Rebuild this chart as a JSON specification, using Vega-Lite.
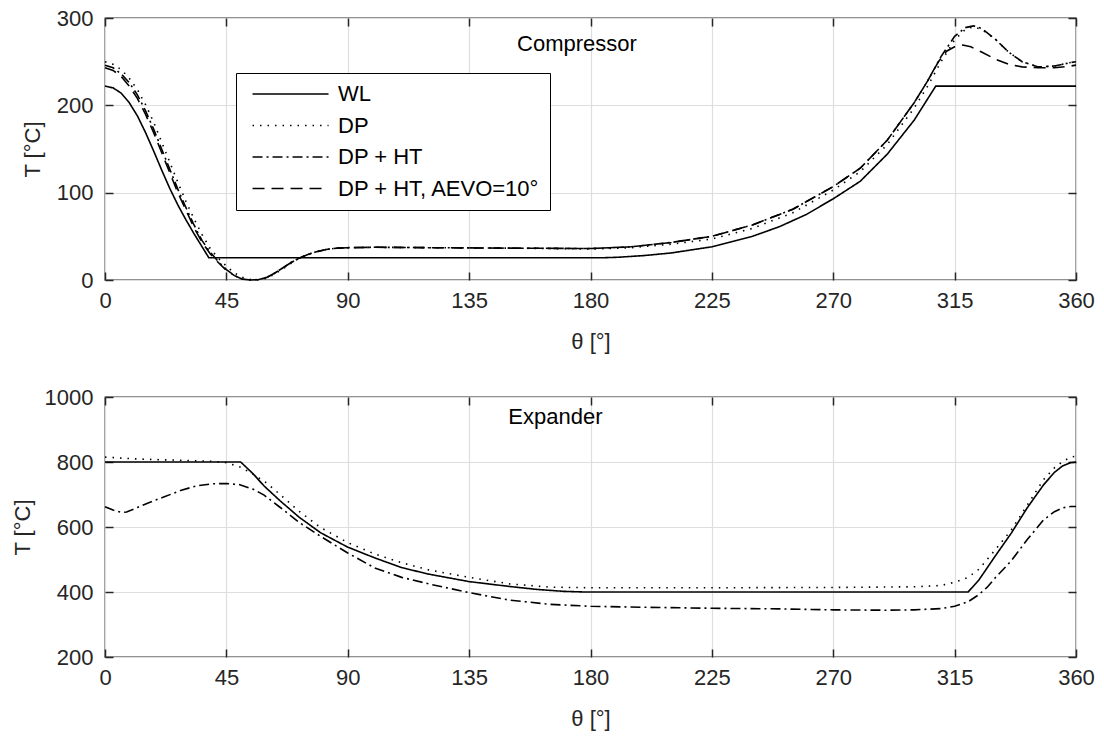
{
  "$schema": "https://vega.github.io/schema/vega-lite/v6.json",
  "background": "white",
  "padding": {"left": 10, "top": 6, "right": 10, "bottom": 10},
  "spacing": 32,
  "config": {
    "view": {"stroke": "#262626", "strokeWidth": 1.3},
    "font": "Liberation Sans",
    "axis": {"labelFont": "Liberation Sans", "labelFontSize": 22, "labelColor": "#262626", "titleFont": "Liberation Sans", "titleFontSize": 22, "titleFontWeight": "normal", "titleColor": "#262626", "gridColor": "#dedede", "gridWidth": 1.2, "domain": false, "tickColor": "#262626", "tickSize": -8, "tickWidth": 1.5, "labelFlush": false},
    "axisX": {"labelPadding": 18},
    "axisY": {"labelPadding": 20}
  },
  "datasets": {
    "comp": [
      {"series": "WL", "theta": 0, "T": 222}, {"series": "WL", "theta": 3, "T": 220}, {"series": "WL", "theta": 6, "T": 214}, {"series": "WL", "theta": 9, "T": 203}, {"series": "WL", "theta": 12, "T": 188}, {"series": "WL", "theta": 15, "T": 169}, {"series": "WL", "theta": 18, "T": 148}, {"series": "WL", "theta": 21, "T": 126}, {"series": "WL", "theta": 24, "T": 105}, {"series": "WL", "theta": 27, "T": 86}, {"series": "WL", "theta": 30, "T": 69}, {"series": "WL", "theta": 33, "T": 53}, {"series": "WL", "theta": 36, "T": 38}, {"series": "WL", "theta": 38.5, "T": 25.5}, {"series": "WL", "theta": 185, "T": 25.5}, {"series": "WL", "theta": 190, "T": 26}, {"series": "WL", "theta": 200, "T": 28}, {"series": "WL", "theta": 210, "T": 31}, {"series": "WL", "theta": 225, "T": 38}, {"series": "WL", "theta": 240, "T": 50}, {"series": "WL", "theta": 250, "T": 61}, {"series": "WL", "theta": 260, "T": 75}, {"series": "WL", "theta": 270, "T": 93}, {"series": "WL", "theta": 280, "T": 113}, {"series": "WL", "theta": 290, "T": 144}, {"series": "WL", "theta": 300, "T": 183}, {"series": "WL", "theta": 308, "T": 222}, {"series": "WL", "theta": 360, "T": 222},
      {"series": "DP", "theta": 0, "T": 250}, {"series": "DP", "theta": 3, "T": 247}, {"series": "DP", "theta": 6, "T": 241}, {"series": "DP", "theta": 9, "T": 231}, {"series": "DP", "theta": 12, "T": 218}, {"series": "DP", "theta": 15, "T": 201}, {"series": "DP", "theta": 18, "T": 181}, {"series": "DP", "theta": 21, "T": 158}, {"series": "DP", "theta": 24, "T": 135}, {"series": "DP", "theta": 27, "T": 112}, {"series": "DP", "theta": 30, "T": 90}, {"series": "DP", "theta": 33, "T": 70}, {"series": "DP", "theta": 36, "T": 52}, {"series": "DP", "theta": 39, "T": 36}, {"series": "DP", "theta": 42, "T": 25}, {"series": "DP", "theta": 45, "T": 16}, {"series": "DP", "theta": 48, "T": 8}, {"series": "DP", "theta": 51, "T": 3}, {"series": "DP", "theta": 54, "T": 0.5}, {"series": "DP", "theta": 57, "T": 0}, {"series": "DP", "theta": 60, "T": 2}, {"series": "DP", "theta": 63, "T": 7}, {"series": "DP", "theta": 66, "T": 13}, {"series": "DP", "theta": 69, "T": 19}, {"series": "DP", "theta": 72, "T": 25}, {"series": "DP", "theta": 75, "T": 29}, {"series": "DP", "theta": 78, "T": 32}, {"series": "DP", "theta": 82, "T": 35}, {"series": "DP", "theta": 86, "T": 36.5}, {"series": "DP", "theta": 90, "T": 37}, {"series": "DP", "theta": 100, "T": 37.5}, {"series": "DP", "theta": 120, "T": 37}, {"series": "DP", "theta": 150, "T": 36.5}, {"series": "DP", "theta": 180, "T": 35.5}, {"series": "DP", "theta": 195, "T": 37}, {"series": "DP", "theta": 210, "T": 41}, {"series": "DP", "theta": 225, "T": 47}, {"series": "DP", "theta": 240, "T": 59}, {"series": "DP", "theta": 255, "T": 77}, {"series": "DP", "theta": 270, "T": 103}, {"series": "DP", "theta": 280, "T": 124}, {"series": "DP", "theta": 290, "T": 155}, {"series": "DP", "theta": 300, "T": 197}, {"series": "DP", "theta": 305, "T": 222}, {"series": "DP", "theta": 310, "T": 250}, {"series": "DP", "theta": 315, "T": 275}, {"series": "DP", "theta": 319, "T": 287}, {"series": "DP", "theta": 322, "T": 290}, {"series": "DP", "theta": 325, "T": 287}, {"series": "DP", "theta": 330, "T": 276}, {"series": "DP", "theta": 335, "T": 261}, {"series": "DP", "theta": 340, "T": 250}, {"series": "DP", "theta": 346, "T": 244}, {"series": "DP", "theta": 352, "T": 245}, {"series": "DP", "theta": 358, "T": 249}, {"series": "DP", "theta": 360, "T": 250},
      {"series": "DP + HT", "theta": 0, "T": 246}, {"series": "DP + HT", "theta": 3, "T": 243}, {"series": "DP + HT", "theta": 6, "T": 236}, {"series": "DP + HT", "theta": 9, "T": 226}, {"series": "DP + HT", "theta": 12, "T": 212}, {"series": "DP + HT", "theta": 15, "T": 194}, {"series": "DP + HT", "theta": 18, "T": 173}, {"series": "DP + HT", "theta": 21, "T": 150}, {"series": "DP + HT", "theta": 24, "T": 127}, {"series": "DP + HT", "theta": 27, "T": 104}, {"series": "DP + HT", "theta": 30, "T": 83}, {"series": "DP + HT", "theta": 33, "T": 63}, {"series": "DP + HT", "theta": 36, "T": 45}, {"series": "DP + HT", "theta": 39, "T": 32}, {"series": "DP + HT", "theta": 42, "T": 21}, {"series": "DP + HT", "theta": 45, "T": 12}, {"series": "DP + HT", "theta": 48, "T": 5}, {"series": "DP + HT", "theta": 51, "T": 1}, {"series": "DP + HT", "theta": 54, "T": 0}, {"series": "DP + HT", "theta": 57, "T": 0.5}, {"series": "DP + HT", "theta": 60, "T": 3}, {"series": "DP + HT", "theta": 63, "T": 8}, {"series": "DP + HT", "theta": 66, "T": 14}, {"series": "DP + HT", "theta": 69, "T": 20}, {"series": "DP + HT", "theta": 72, "T": 25}, {"series": "DP + HT", "theta": 75, "T": 29}, {"series": "DP + HT", "theta": 78, "T": 32}, {"series": "DP + HT", "theta": 82, "T": 35}, {"series": "DP + HT", "theta": 86, "T": 36.5}, {"series": "DP + HT", "theta": 90, "T": 37}, {"series": "DP + HT", "theta": 100, "T": 37.5}, {"series": "DP + HT", "theta": 120, "T": 37}, {"series": "DP + HT", "theta": 150, "T": 36.5}, {"series": "DP + HT", "theta": 180, "T": 36}, {"series": "DP + HT", "theta": 195, "T": 38}, {"series": "DP + HT", "theta": 210, "T": 43}, {"series": "DP + HT", "theta": 225, "T": 50}, {"series": "DP + HT", "theta": 240, "T": 63}, {"series": "DP + HT", "theta": 255, "T": 81}, {"series": "DP + HT", "theta": 270, "T": 107}, {"series": "DP + HT", "theta": 280, "T": 128}, {"series": "DP + HT", "theta": 290, "T": 160}, {"series": "DP + HT", "theta": 300, "T": 203}, {"series": "DP + HT", "theta": 305, "T": 228}, {"series": "DP + HT", "theta": 310, "T": 256}, {"series": "DP + HT", "theta": 315, "T": 279}, {"series": "DP + HT", "theta": 319, "T": 289}, {"series": "DP + HT", "theta": 322, "T": 291}, {"series": "DP + HT", "theta": 325, "T": 288}, {"series": "DP + HT", "theta": 330, "T": 276}, {"series": "DP + HT", "theta": 335, "T": 261}, {"series": "DP + HT", "theta": 340, "T": 250}, {"series": "DP + HT", "theta": 346, "T": 244}, {"series": "DP + HT", "theta": 352, "T": 245}, {"series": "DP + HT", "theta": 358, "T": 249}, {"series": "DP + HT", "theta": 360, "T": 250},
      {"series": "DP + HT, AEVO=10°", "theta": 0, "T": 243}, {"series": "DP + HT, AEVO=10°", "theta": 3, "T": 240}, {"series": "DP + HT, AEVO=10°", "theta": 6, "T": 233}, {"series": "DP + HT, AEVO=10°", "theta": 9, "T": 222}, {"series": "DP + HT, AEVO=10°", "theta": 12, "T": 208}, {"series": "DP + HT, AEVO=10°", "theta": 15, "T": 190}, {"series": "DP + HT, AEVO=10°", "theta": 18, "T": 169}, {"series": "DP + HT, AEVO=10°", "theta": 21, "T": 146}, {"series": "DP + HT, AEVO=10°", "theta": 24, "T": 123}, {"series": "DP + HT, AEVO=10°", "theta": 27, "T": 100}, {"series": "DP + HT, AEVO=10°", "theta": 30, "T": 80}, {"series": "DP + HT, AEVO=10°", "theta": 33, "T": 60}, {"series": "DP + HT, AEVO=10°", "theta": 36, "T": 43}, {"series": "DP + HT, AEVO=10°", "theta": 39, "T": 30}, {"series": "DP + HT, AEVO=10°", "theta": 42, "T": 20}, {"series": "DP + HT, AEVO=10°", "theta": 45, "T": 11}, {"series": "DP + HT, AEVO=10°", "theta": 48, "T": 5}, {"series": "DP + HT, AEVO=10°", "theta": 51, "T": 1}, {"series": "DP + HT, AEVO=10°", "theta": 54, "T": 0}, {"series": "DP + HT, AEVO=10°", "theta": 57, "T": 0.5}, {"series": "DP + HT, AEVO=10°", "theta": 60, "T": 3}, {"series": "DP + HT, AEVO=10°", "theta": 63, "T": 8}, {"series": "DP + HT, AEVO=10°", "theta": 66, "T": 14}, {"series": "DP + HT, AEVO=10°", "theta": 69, "T": 20}, {"series": "DP + HT, AEVO=10°", "theta": 72, "T": 25}, {"series": "DP + HT, AEVO=10°", "theta": 75, "T": 29}, {"series": "DP + HT, AEVO=10°", "theta": 78, "T": 32}, {"series": "DP + HT, AEVO=10°", "theta": 82, "T": 35}, {"series": "DP + HT, AEVO=10°", "theta": 86, "T": 36.5}, {"series": "DP + HT, AEVO=10°", "theta": 90, "T": 37}, {"series": "DP + HT, AEVO=10°", "theta": 100, "T": 37.5}, {"series": "DP + HT, AEVO=10°", "theta": 120, "T": 37}, {"series": "DP + HT, AEVO=10°", "theta": 150, "T": 36.5}, {"series": "DP + HT, AEVO=10°", "theta": 180, "T": 36}, {"series": "DP + HT, AEVO=10°", "theta": 195, "T": 38}, {"series": "DP + HT, AEVO=10°", "theta": 210, "T": 43}, {"series": "DP + HT, AEVO=10°", "theta": 225, "T": 50}, {"series": "DP + HT, AEVO=10°", "theta": 240, "T": 63}, {"series": "DP + HT, AEVO=10°", "theta": 255, "T": 81}, {"series": "DP + HT, AEVO=10°", "theta": 270, "T": 107}, {"series": "DP + HT, AEVO=10°", "theta": 280, "T": 128}, {"series": "DP + HT, AEVO=10°", "theta": 290, "T": 160}, {"series": "DP + HT, AEVO=10°", "theta": 300, "T": 203}, {"series": "DP + HT, AEVO=10°", "theta": 305, "T": 228}, {"series": "DP + HT, AEVO=10°", "theta": 309, "T": 250}, {"series": "DP + HT, AEVO=10°", "theta": 312, "T": 262}, {"series": "DP + HT, AEVO=10°", "theta": 315, "T": 267}, {"series": "DP + HT, AEVO=10°", "theta": 318, "T": 269}, {"series": "DP + HT, AEVO=10°", "theta": 321, "T": 267}, {"series": "DP + HT, AEVO=10°", "theta": 325, "T": 261}, {"series": "DP + HT, AEVO=10°", "theta": 330, "T": 253}, {"series": "DP + HT, AEVO=10°", "theta": 335, "T": 247}, {"series": "DP + HT, AEVO=10°", "theta": 340, "T": 244}, {"series": "DP + HT, AEVO=10°", "theta": 346, "T": 243}, {"series": "DP + HT, AEVO=10°", "theta": 352, "T": 243}, {"series": "DP + HT, AEVO=10°", "theta": 358, "T": 245}, {"series": "DP + HT, AEVO=10°", "theta": 360, "T": 246}
    ],
    "exp": [
      {"series": "WL", "theta": 0, "T": 800}, {"series": "WL", "theta": 50.3, "T": 800}, {"series": "WL", "theta": 55, "T": 763}, {"series": "WL", "theta": 59, "T": 726}, {"series": "WL", "theta": 65, "T": 680}, {"series": "WL", "theta": 72, "T": 630}, {"series": "WL", "theta": 80, "T": 582}, {"series": "WL", "theta": 90, "T": 538}, {"series": "WL", "theta": 100, "T": 505}, {"series": "WL", "theta": 110, "T": 475}, {"series": "WL", "theta": 120, "T": 455}, {"series": "WL", "theta": 135, "T": 432}, {"series": "WL", "theta": 150, "T": 417}, {"series": "WL", "theta": 160, "T": 408}, {"series": "WL", "theta": 170, "T": 402}, {"series": "WL", "theta": 178, "T": 400}, {"series": "WL", "theta": 320, "T": 400}, {"series": "WL", "theta": 324, "T": 437}, {"series": "WL", "theta": 330, "T": 510}, {"series": "WL", "theta": 336, "T": 581}, {"series": "WL", "theta": 342, "T": 660}, {"series": "WL", "theta": 348, "T": 730}, {"series": "WL", "theta": 352, "T": 768}, {"series": "WL", "theta": 355, "T": 788}, {"series": "WL", "theta": 358, "T": 798}, {"series": "WL", "theta": 360, "T": 800},
      {"series": "DP", "theta": 0, "T": 815}, {"series": "DP", "theta": 10, "T": 810}, {"series": "DP", "theta": 20, "T": 807}, {"series": "DP", "theta": 30, "T": 805}, {"series": "DP", "theta": 40, "T": 802}, {"series": "DP", "theta": 45, "T": 798}, {"series": "DP", "theta": 50, "T": 785}, {"series": "DP", "theta": 55, "T": 762}, {"series": "DP", "theta": 60, "T": 735}, {"series": "DP", "theta": 66, "T": 692}, {"series": "DP", "theta": 72, "T": 648}, {"series": "DP", "theta": 80, "T": 598}, {"series": "DP", "theta": 90, "T": 552}, {"series": "DP", "theta": 100, "T": 517}, {"series": "DP", "theta": 110, "T": 490}, {"series": "DP", "theta": 120, "T": 468}, {"series": "DP", "theta": 135, "T": 445}, {"series": "DP", "theta": 150, "T": 425}, {"series": "DP", "theta": 165, "T": 415}, {"series": "DP", "theta": 180, "T": 413}, {"series": "DP", "theta": 225, "T": 413}, {"series": "DP", "theta": 270, "T": 414}, {"series": "DP", "theta": 300, "T": 416}, {"series": "DP", "theta": 310, "T": 420}, {"series": "DP", "theta": 315, "T": 430}, {"series": "DP", "theta": 320, "T": 445}, {"series": "DP", "theta": 324, "T": 470}, {"series": "DP", "theta": 330, "T": 529}, {"series": "DP", "theta": 336, "T": 591}, {"series": "DP", "theta": 342, "T": 668}, {"series": "DP", "theta": 348, "T": 746}, {"series": "DP", "theta": 352, "T": 782}, {"series": "DP", "theta": 355, "T": 801}, {"series": "DP", "theta": 358, "T": 815}, {"series": "DP", "theta": 360, "T": 818},
      {"series": "DP + HT", "theta": 0, "T": 662}, {"series": "DP + HT", "theta": 3, "T": 652}, {"series": "DP + HT", "theta": 6, "T": 645}, {"series": "DP + HT", "theta": 8, "T": 646}, {"series": "DP + HT", "theta": 12, "T": 660}, {"series": "DP + HT", "theta": 16, "T": 674}, {"series": "DP + HT", "theta": 22, "T": 693}, {"series": "DP + HT", "theta": 28, "T": 712}, {"series": "DP + HT", "theta": 34, "T": 727}, {"series": "DP + HT", "theta": 40, "T": 733}, {"series": "DP + HT", "theta": 45, "T": 734}, {"series": "DP + HT", "theta": 50, "T": 730}, {"series": "DP + HT", "theta": 55, "T": 716}, {"series": "DP + HT", "theta": 59, "T": 698}, {"series": "DP + HT", "theta": 65, "T": 660}, {"series": "DP + HT", "theta": 72, "T": 614}, {"series": "DP + HT", "theta": 80, "T": 571}, {"series": "DP + HT", "theta": 90, "T": 520}, {"series": "DP + HT", "theta": 100, "T": 474}, {"series": "DP + HT", "theta": 110, "T": 445}, {"series": "DP + HT", "theta": 120, "T": 425}, {"series": "DP + HT", "theta": 135, "T": 398}, {"series": "DP + HT", "theta": 150, "T": 375}, {"series": "DP + HT", "theta": 165, "T": 362}, {"series": "DP + HT", "theta": 180, "T": 356}, {"series": "DP + HT", "theta": 200, "T": 353}, {"series": "DP + HT", "theta": 225, "T": 350}, {"series": "DP + HT", "theta": 250, "T": 348}, {"series": "DP + HT", "theta": 270, "T": 345}, {"series": "DP + HT", "theta": 290, "T": 344}, {"series": "DP + HT", "theta": 300, "T": 345}, {"series": "DP + HT", "theta": 310, "T": 349}, {"series": "DP + HT", "theta": 315, "T": 356}, {"series": "DP + HT", "theta": 320, "T": 370}, {"series": "DP + HT", "theta": 324, "T": 392}, {"series": "DP + HT", "theta": 327, "T": 414}, {"series": "DP + HT", "theta": 330, "T": 443}, {"series": "DP + HT", "theta": 336, "T": 496}, {"series": "DP + HT", "theta": 342, "T": 562}, {"series": "DP + HT", "theta": 348, "T": 622}, {"series": "DP + HT", "theta": 352, "T": 647}, {"series": "DP + HT", "theta": 355, "T": 659}, {"series": "DP + HT", "theta": 358, "T": 663}, {"series": "DP + HT", "theta": 360, "T": 663}
    ]
  },
  "resolve": {"scale": {"strokeDash": "independent"}, "legend": {"strokeDash": "independent"}},
  "vconcat": [
    {
      "width": 971,
      "height": 262,
      "resolve": {"axis": {"x": "independent", "y": "independent"}},
      "layer": [
        {
          "data": {"name": "comp"},
          "mark": {"type": "line", "color": "black", "strokeWidth": 1.6},
          "encoding": {
            "x": {"field": "theta", "type": "quantitative", "scale": {"domain": [0, 360], "nice": false}, "axis": {"values": [0, 45, 90, 135, 180, 225, 270, 315, 360], "title": "θ [°]", "titlePadding": 20, "grid": true}},
            "y": {"field": "T", "type": "quantitative", "scale": {"domain": [0, 300], "nice": false}, "axis": {"values": [0, 100, 200, 300], "format": "d", "title": "T [°C]", "titlePadding": 12, "grid": true}},
            "strokeDash": {"field": "series", "type": "nominal", "scale": {"domain": ["WL", "DP", "DP + HT", "DP + HT, AEVO=10°"], "range": [[1, 0], [1.5, 6], [10, 4, 2, 4], [12, 7]]}, "legend": {"orient": "none", "legendX": 131, "legendY": 55, "title": null, "symbolType": "M-0.47,0H7.53", "symbolSize": 361, "symbolStrokeWidth": 1.6, "symbolStrokeColor": "black", "symbolFillColor": "transparent", "labelFontSize": 22, "labelFont": "Liberation Sans", "labelColor": "black", "labelLimit": 400, "labelOffset": 70, "strokeColor": "black", "fillColor": "white", "padding": 10, "rowPadding": 9.5}}
          }
        },
        {
          "data": {"name": "comp"},
          "mark": {"type": "line", "opacity": 0},
          "encoding": {
            "x": {"field": "theta", "type": "quantitative", "axis": {"orient": "top", "values": [0, 45, 90, 135, 180, 225, 270, 315, 360], "labels": false, "grid": false, "title": null}},
            "y": {"field": "T", "type": "quantitative", "axis": {"orient": "right", "values": [0, 100, 200, 300], "labels": false, "grid": false, "title": null}}
          }
        },
        {
          "data": {"values": [{"label": "Compressor", "theta": 175, "T": 270}]},
          "mark": {"type": "text", "fontSize": 22, "font": "Liberation Sans", "color": "black"},
          "encoding": {
            "x": {"field": "theta", "type": "quantitative", "axis": null},
            "y": {"field": "T", "type": "quantitative", "axis": null},
            "text": {"field": "label"}
          }
        }
      ]
    },
    {
      "width": 971,
      "height": 260,
      "resolve": {"axis": {"x": "independent", "y": "independent"}},
      "layer": [
        {
          "data": {"name": "exp"},
          "mark": {"type": "line", "color": "black", "strokeWidth": 1.6},
          "encoding": {
            "x": {"field": "theta", "type": "quantitative", "scale": {"domain": [0, 360], "nice": false}, "axis": {"values": [0, 45, 90, 135, 180, 225, 270, 315, 360], "title": "θ [°]", "titlePadding": 20, "grid": true}},
            "y": {"field": "T", "type": "quantitative", "scale": {"domain": [200, 1000], "nice": false}, "axis": {"values": [200, 400, 600, 800, 1000], "format": "d", "title": "T [°C]", "titlePadding": 10, "grid": true}},
            "strokeDash": {"field": "series", "type": "nominal", "scale": {"domain": ["WL", "DP", "DP + HT"], "range": [[1, 0], [1.5, 6], [10, 4, 2, 4]]}, "legend": null}
          }
        },
        {
          "data": {"name": "exp"},
          "mark": {"type": "line", "opacity": 0},
          "encoding": {
            "x": {"field": "theta", "type": "quantitative", "axis": {"orient": "top", "values": [0, 45, 90, 135, 180, 225, 270, 315, 360], "labels": false, "grid": false, "title": null}},
            "y": {"field": "T", "type": "quantitative", "axis": {"orient": "right", "values": [200, 400, 600, 800, 1000], "labels": false, "grid": false, "title": null}}
          }
        },
        {
          "data": {"values": [{"label": "Expander", "theta": 167, "T": 940}]},
          "mark": {"type": "text", "fontSize": 22, "font": "Liberation Sans", "color": "black"},
          "encoding": {
            "x": {"field": "theta", "type": "quantitative", "axis": null},
            "y": {"field": "T", "type": "quantitative", "axis": null},
            "text": {"field": "label"}
          }
        }
      ]
    }
  ]
}
